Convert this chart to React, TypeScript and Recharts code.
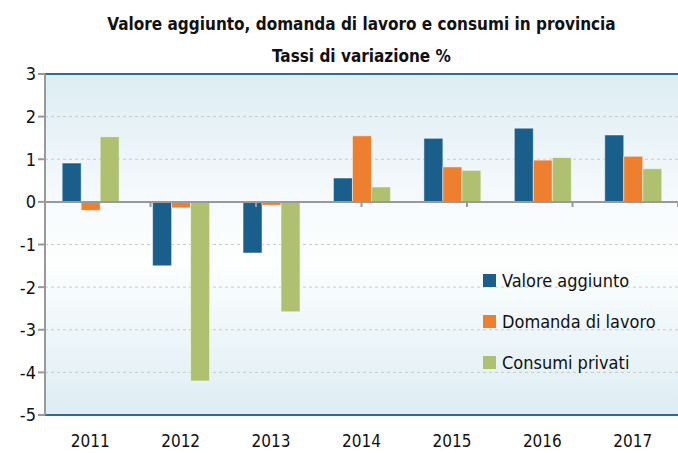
import React from 'react';
import { BarChart, Bar, XAxis, YAxis, CartesianGrid, ReferenceLine } from 'recharts';

const years = ['2011', '2012', '2013', '2014', '2015', '2016', '2017'];
const valoreAggiunto = [0.91, -1.5, -1.2, 0.56, 1.49, 1.73, 1.57];
const domandaLavoro = [-0.2, -0.14, -0.08, 1.55, 0.82, 0.98, 1.07];
const consumiPrivati = [1.53, -4.2, -2.58, 0.35, 0.74, 1.04, 0.78];
const yTicks = [-5, -4, -3, -2, -1, 0, 1, 2, 3];
const boundaries = [1, 2, 3, 4, 5, 6];

const series = [
  { key: 'valore', name: 'Valore aggiunto', color: '#1a5f8b' },
  { key: 'domanda', name: 'Domanda di lavoro', color: '#ee7f2f' },
  { key: 'consumi', name: 'Consumi privati', color: '#afc170' },
];

const chartData = years.map((year, i) => ({
  year,
  valore: valoreAggiunto[i],
  domanda: domandaLavoro[i],
  consumi: consumiPrivati[i],
}));

const FONT = '"Liberation Sans Narrow", "DejaVu Sans Condensed", sans-serif';

export default function App() {
  return (
    <div style={{ position: 'absolute', left: 0, top: 0, width: 678, height: 453, background: '#fff' }}>
      <div
        style={{
          position: 'absolute',
          left: 45,
          width: 633,
          top: 8,
          textAlign: 'center',
          fontFamily: FONT,
          fontWeight: 'bold',
          fontSize: 17,
          lineHeight: '32px',
          color: '#111',
        }}
      >
        Valore aggiunto, domanda di lavoro e consumi in provincia
        <br />
        Tassi di variazione %
      </div>
      <BarChart
        width={678}
        height={453}
        data={chartData}
        margin={{ top: 74, right: 0, left: 0, bottom: 0 }}
        barCategoryGap="19%"
        barGap={0}
      >
        <defs>
          <linearGradient id="bg" x1="0" y1="0" x2="0" y2="1">
            <stop offset="0%" stopColor="#ddedf3" />
            <stop offset="40%" stopColor="#f8fbfd" />
            <stop offset="55%" stopColor="#fdfefe" />
            <stop offset="100%" stopColor="#ddedf3" />
          </linearGradient>
        </defs>
        <CartesianGrid vertical={false} fill="url(#bg)" stroke="#c9c9c9" strokeDasharray="3 3" />
        <XAxis
          dataKey="year"
          height={38}
          axisLine={{ stroke: '#2b6c98', strokeWidth: 2 }}
          tickLine={false}
          tick={{ fill: '#111', fontSize: 17, fontFamily: FONT }}
          dy={12}
        />
        <XAxis xAxisId="b" type="number" domain={[0, 7]} hide />
        <YAxis
          width={45}
          domain={[-5, 3]}
          ticks={yTicks}
          interval={0}
          axisLine={{ stroke: '#999', strokeWidth: 2 }}
          tickLine={{ stroke: '#999', strokeWidth: 2 }}
          tickSize={7}
          tick={{ fill: '#111', fontSize: 18, fontFamily: FONT }}
        />
        <ReferenceLine y={3} stroke="#2b6c98" strokeWidth={2} />
        {series.map((s) => (
          <Bar
            key={s.key}
            dataKey={s.key}
            name={s.name}
            fill={s.color}
            stroke="#ffffff"
            strokeOpacity={0.5}
            strokeWidth={1}
            isAnimationActive={false}
          />
        ))}
        <ReferenceLine y={0} stroke="#999" strokeWidth={2} />
        {boundaries.map((b) => (
          <ReferenceLine
            key={b}
            xAxisId="b"
            segment={[{ x: b, y: 0 }, { x: b, y: -0.12 }]}
            stroke="#999"
            strokeWidth={2}
          />
        ))}
      </BarChart>
      <div
        style={{
          position: 'absolute',
          left: 483,
          top: 260,
          fontFamily: FONT,
          fontSize: 18,
          color: '#111',
        }}
      >
        {series.map((s) => (
          <div key={s.key} style={{ display: 'flex', alignItems: 'center', height: 41 }}>
            <span style={{ width: 13, height: 13, background: s.color, display: 'inline-block', marginRight: 6 }} />
            {s.name}
          </div>
        ))}
      </div>
    </div>
  );
}
